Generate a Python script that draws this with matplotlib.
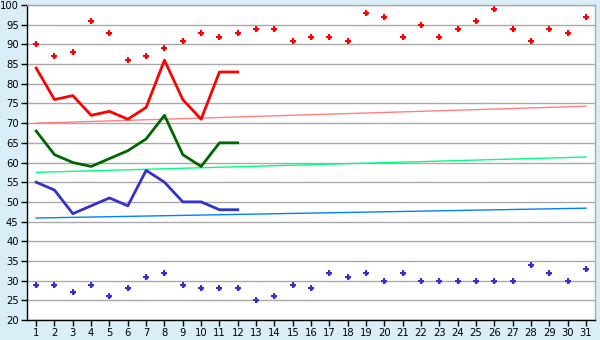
import matplotlib
matplotlib.use("Agg")
import matplotlib.pyplot as plt

BG_COLOR = "#d9eef6"
GRID_COLOR = "#a9a9a9"
RED = "#ff0000"
GREEN = "#006600"
BLUE = "#3333cc"

days = list(range(1, 32))
line_days = list(range(1, 13))

high_points = [90, 87, 88, 96, 93, 86, 87, 89, 91, 93, 92, 93, 94, 94, 91, 92,
               92, 91, 98, 97, 92, 95, 92, 94, 96, 99, 94, 91, 94, 93, 97]
low_points = [29, 29, 27, 29, 26, 28, 31, 32, 29, 28, 28, 28, 25, 26, 29, 28,
              32, 31, 32, 30, 32, 30, 30, 30, 30, 30, 30, 34, 32, 30, 33]

red_line = [84, 76, 77, 72, 73, 71, 74, 86, 76, 71, 83, 83]
green_line = [68, 62, 60, 59, 61, 63, 66, 72, 62, 59, 65, 65]
blue_line = [55, 53, 47, 49, 51, 49, 58, 55, 50, 50, 48, 48]

# trend lines: value at day 1 and day 31
trend_days = [1, 31]
red_trend = [70.0, 74.3]
green_trend = [57.5, 61.4]
blue_trend = [45.9, 48.4]

y_ticks = list(range(20, 101, 5))


def main() -> None:
    fig = plt.figure(figsize=(6, 3.4), dpi=100, facecolor=BG_COLOR)
    ax = fig.add_axes([0.045, 0.059, 0.947, 0.926])
    ax.set_facecolor("white")

    ax.plot(trend_days, red_trend, color="#ff8080", linewidth=1.0)
    ax.plot(trend_days, green_trend, color="#00ff80", linewidth=1.0)
    ax.plot(trend_days, blue_trend, color="#0080ff", linewidth=1.0)

    ax.plot(line_days, red_line, color=RED, linewidth=2)
    ax.plot(line_days, green_line, color=GREEN, linewidth=2)
    ax.plot(line_days, blue_line, color=BLUE, linewidth=2)

    for vals, col in ((high_points, RED), (low_points, BLUE)):
        ax.plot(days, vals, linestyle="none", marker="P", markersize=4.6,
                color=col, markeredgewidth=0)
        ax.plot(days, vals, linestyle="none", marker="D", markersize=2.8,
                color=col, markeredgewidth=0)

    ax.set_xlim(0.5, 31.5)
    ax.set_ylim(20, 100)
    ax.set_xticks(days)
    ax.set_yticks(y_ticks)
    ax.tick_params(axis="both", labelsize=7.2, length=4, width=1, colors="black", pad=2)
    ax.grid(True, axis="y", color=GRID_COLOR, linewidth=1)
    ax.set_axisbelow(True)

    ax.spines["left"].set_color("black")
    ax.spines["bottom"].set_color("black")
    ax.spines["right"].set_color(GRID_COLOR)
    ax.spines["top"].set_color(GRID_COLOR)
    for s in ax.spines.values():
        s.set_linewidth(1)

    fig.savefig("out.png", dpi=100, facecolor=BG_COLOR)
    plt.close(fig)


if __name__ == "__main__":
    main()
